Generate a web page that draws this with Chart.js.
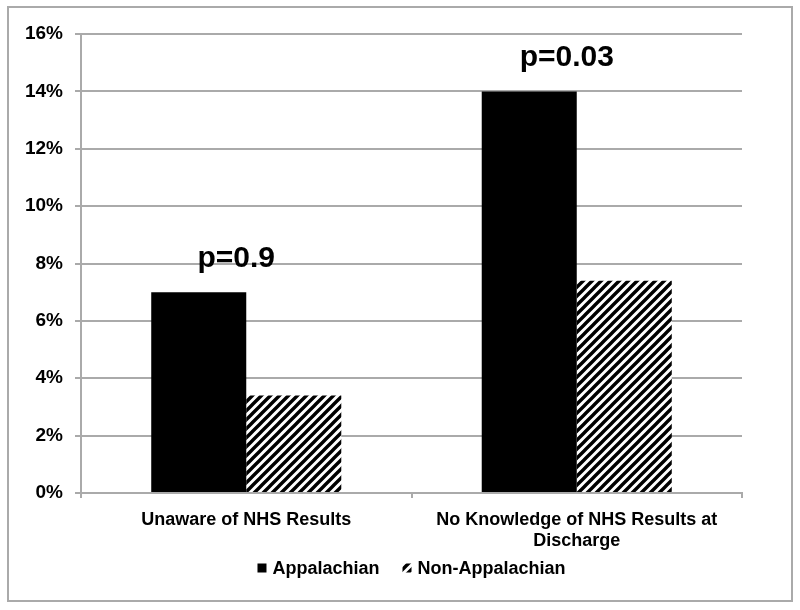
<!DOCTYPE html>
<html>
<head>
<meta charset="utf-8">
<script src="https://cdn.jsdelivr.net/npm/chart.js@4/dist/chart.umd.min.js"></script>
<style>
    body { margin: 0; background: #fff; }
    canvas { display: block; }
</style>
</head>
<body>
<canvas id="chart" width="800" height="610"></canvas>
<script>
// 카테고리 / 시리즈 값
const categories = ["Unaware of NHS Results", ["No Knowledge of NHS Results at", "Discharge"]]
const seriesNames = ["Appalachian", "Non-Appalachian"]
const appalachianValues = [7.0, 14.0]
const nonAppalachianValues = [3.4, 7.4]
const pLabels = ["p=0.9", "p=0.03"]

const FONT = "'Liberation Sans', Arial, sans-serif"

// 사선 해칭 패턴
function makeHatch() {
    const size = 9
    const c = document.createElement('canvas')
    c.width = size
    c.height = size
    const ctx = c.getContext('2d')
    ctx.fillStyle = "#fff"
    ctx.fillRect(0, 0, size, size)
    ctx.strokeStyle = "#000"
    ctx.lineWidth = 3.4
    ctx.beginPath()
    ctx.moveTo(-2, size + 2); ctx.lineTo(size + 2, -2)
    ctx.moveTo(-size / 2 - 2, size / 2 + 2); ctx.lineTo(size / 2 + 2, -size / 2 - 2)
    ctx.moveTo(size / 2 - 2, size * 1.5 + 2); ctx.lineTo(size * 1.5 + 2, size / 2 - 2)
    ctx.stroke()
    return document.getElementById('chart').getContext('2d').createPattern(c, 'repeat')
}

// 바깥 테두리
const framePlugin = {
    id: 'frame',
    beforeDraw(chart) {
        const ctx = chart.ctx
        ctx.save()
        ctx.fillStyle = "#fff"
        ctx.fillRect(0, 0, chart.width, chart.height)
        ctx.strokeStyle = "#aaa"
        ctx.lineWidth = 2
        ctx.strokeRect(8, 7, 784, 594)
        ctx.restore()
    }
}

// p 값 텍스트
const pValuePlugin = {
    id: 'pvalues',
    afterDatasetsDraw(chart) {
        const ctx = chart.ctx
        const meta = chart.getDatasetMeta(0)
        ctx.save()
        ctx.font = "bold 30px " + FONT
        ctx.fillStyle = "#000"
        ctx.textAlign = "center"
        ctx.textBaseline = "alphabetic"
        meta.data.forEach(function (bar, i) {
            const cx = chart.scales.x.getPixelForValue(i) - 10
            ctx.fillText(pLabels[i], cx, bar.y - 25)
        })
        ctx.restore()
    }
}

// 하단 범례 (항목 간격을 넓게)
const legendPlugin = {
    id: 'customLegend',
    afterDraw(chart) {
        const ctx = chart.ctx
        const box = 9, gap = 6, itemGap = 23
        const cy = 568
        ctx.save()
        ctx.font = "bold 18px " + FONT
        ctx.textBaseline = "middle"
        const items = chart.data.datasets.map(function (ds) {
            return { text: ds.label, fill: ds.backgroundColor, w: box + gap + ctx.measureText(ds.label).width }
        })
        let total = items.reduce(function (s, it) { return s + it.w }, 0) + itemGap * (items.length - 1)
        let x = (chart.chartArea.left + chart.chartArea.right) / 2 - total / 2
        items.forEach(function (it) {
            ctx.fillStyle = it.fill
            ctx.fillRect(x, cy - box / 2, box, box)
            ctx.fillStyle = "#000"
            ctx.fillText(it.text, x + box + gap, cy + 1)
            x += it.w + itemGap
        })
        ctx.restore()
    }
}

const hatch = makeHatch()

new Chart(document.getElementById('chart'), {
    type: 'bar',
    data: {
        labels: categories,
        datasets: [{
            label: seriesNames[0],
            data: appalachianValues,
            backgroundColor: "#000",
            borderWidth: 0
        }, {
            label: seriesNames[1],
            data: nonAppalachianValues,
            backgroundColor: hatch,
            borderWidth: 0
        }]
    },
    options: {
        responsive: false,
        animation: false,
        layout: { padding: { left: 0, right: 58, top: 34, bottom: 57 } },
        datasets: { bar: { categoryPercentage: 0.575, barPercentage: 1.0 } },
        scales: {
            x: {
                grid: { offset: true, drawOnChartArea: false, tickLength: 5, color: "#aaa", lineWidth: 2 },
                border: { color: "#aaa", width: 2 },
                ticks: { color: "#000", font: { family: FONT, size: 18, weight: 'bold' }, padding: 11, maxRotation: 0 },
                afterFit(s) { s.height = 60 }
            },
            y: {
                min: 0,
                max: 16,
                ticks: {
                    stepSize: 2,
                    color: "#000",
                    font: { family: FONT, size: 19, weight: 'bold' },
                    padding: 12,
                    callback: function (v) { return v + "%" }
                },
                grid: { color: "#aaa", lineWidth: 2, tickLength: 6 },
                border: { color: "#aaa", width: 2 },
                afterFit(s) { s.width = 81 }
            }
        },
        plugins: {
            legend: { display: false },
            tooltip: { enabled: false }
        }
    },
    plugins: [framePlugin, pValuePlugin, legendPlugin]
})
</script>
</body>
</html>
